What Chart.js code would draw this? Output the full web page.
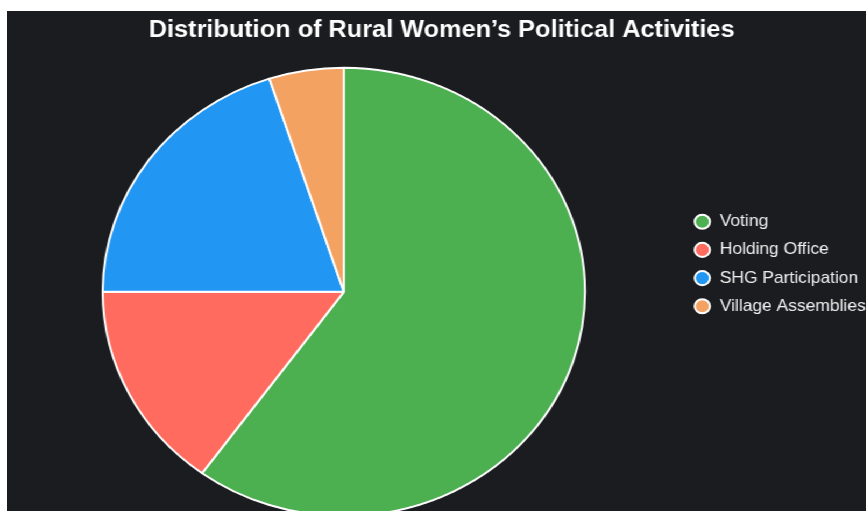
<!DOCTYPE html>
<html>
<head>
<meta charset="utf-8">
<script src="https://cdn.jsdelivr.net/npm/chart.js@4.4.1/dist/chart.umd.min.js"></script>
<style>
    html, body { margin: 0; padding: 0; background: #ffffff; overflow: hidden; }
    .chartBox {
        position: absolute;
        left: 7px;
        top: 11px;
        width: 808px;
        height: 506px;
        background: #1b1c20;
        transform-origin: 0 0;
        transform: scaleX(1.076);
    }
</style>
</head>
<body>
<div class="chartBox">
    <canvas id="activityChart"></canvas>
</div>
<script>
const activities = ['Voting', 'Holding Office', 'SHG Participation', 'Village Assemblies'];
const shares = [60, 15, 20, 5];
const sliceColors = ['#4caf50', '#ff6b5e', '#2196f3', '#f4a261'];

document.addEventListener('DOMContentLoaded', () => {
    const ctx = document.getElementById('activityChart').getContext('2d');

    new Chart(ctx, {
        type: 'pie',
        data: {
            labels: activities,
            datasets: [{
                data: shares,
                backgroundColor: sliceColors,
                borderColor: '#ffffff',
                borderWidth: 2
            }]
        },
        options: {
            responsive: true,
            maintainAspectRatio: false,
            animation: false,
            layout: { padding: 0 },
            plugins: {
                title: {
                    display: true,
                    text: 'Distribution of Rural Women’s Political Activities',
                    color: '#ffffff',
                    font: { family: 'Liberation Sans, Arial, sans-serif', size: 23.5, weight: 'bold' },
                    padding: { top: 5, bottom: 22.5 }
                },
                legend: {
                    position: 'right',
                    labels: {
                        color: '#eeeeee',
                        usePointStyle: true,
                        pointStyle: 'circle',
                        boxHeight: 10,
                        padding: 12,
                        font: { family: 'Liberation Sans, Arial, sans-serif', size: 16.2 }
                    }
                },
                tooltip: { enabled: false }
            }
        }
    });
});
</script>
</body>
</html>
